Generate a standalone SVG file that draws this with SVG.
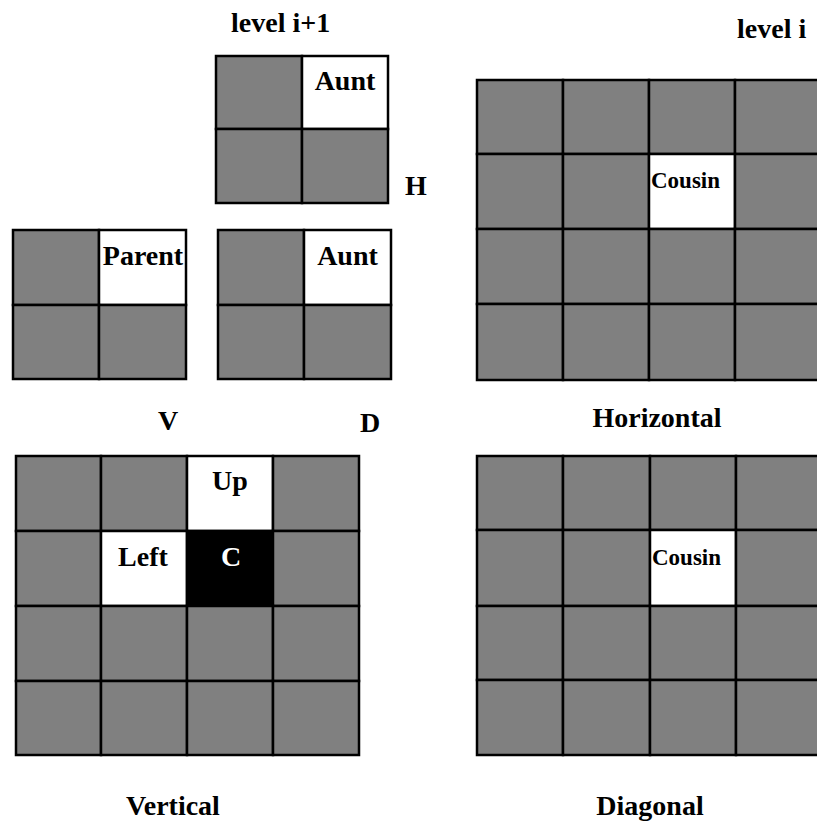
<svg xmlns="http://www.w3.org/2000/svg" width="817" height="823" viewBox="0 0 817 823">
<style>
.g{fill:#808080;stroke:#000;stroke-width:2.5}
.w{fill:#fff;stroke:#000;stroke-width:2.5}
.k{fill:#000;stroke:#000;stroke-width:2.5}
.t{font-family:"Liberation Serif","Times New Roman",serif;font-weight:bold;font-size:28px;fill:#000}
.s{font-size:23px}
.c{text-anchor:middle}
.wt{fill:#fff}
</style>
<rect width="817" height="823" fill="#fff"/>
<g id="labels">
<text class="t" x="231" y="32">level i+1</text>
<text class="t" x="737" y="38">level i</text>
<text class="t" x="405" y="195">H</text>
<text class="t" x="158" y="430">V</text>
<text class="t" x="360" y="432">D</text>
<text class="t c" x="657" y="427">Horizontal</text>
<text class="t c" x="173" y="815">Vertical</text>
<text class="t c" x="650" y="815">Diagonal</text>
</g>
<g id="grid-aunt-top">
<rect class="g" x="216" y="56" width="86" height="73"/>
<rect class="w" x="302" y="56" width="86" height="73"/>
<rect class="g" x="216" y="129" width="86" height="74"/>
<rect class="g" x="302" y="129" width="86" height="74"/>
<text class="t c" x="345" y="90">Aunt</text>
</g>
<g id="grid-parent">
<rect class="g" x="13" y="230" width="86" height="75"/>
<rect class="w" x="99" y="230" width="87" height="75"/>
<rect class="g" x="13" y="305" width="86" height="74"/>
<rect class="g" x="99" y="305" width="87" height="74"/>
<text class="t c" x="143" y="265">Parent</text>
</g>
<g id="grid-aunt">
<rect class="g" x="218" y="230" width="86" height="75"/>
<rect class="w" x="304" y="230" width="87" height="75"/>
<rect class="g" x="218" y="305" width="86" height="74"/>
<rect class="g" x="304" y="305" width="87" height="74"/>
<text class="t c" x="347.5" y="265">Aunt</text>
</g>
<g id="grid-horizontal">
<rect class="g" x="477" y="80" width="86" height="74"/>
<rect class="g" x="563" y="80" width="86" height="74"/>
<rect class="g" x="649" y="80" width="86" height="74"/>
<rect class="g" x="735" y="80" width="86" height="74"/>
<rect class="g" x="477" y="154" width="86" height="75"/>
<rect class="g" x="563" y="154" width="86" height="75"/>
<rect class="w" x="649" y="154" width="86" height="75"/>
<rect class="g" x="735" y="154" width="86" height="75"/>
<rect class="g" x="477" y="229" width="86" height="75"/>
<rect class="g" x="563" y="229" width="86" height="75"/>
<rect class="g" x="649" y="229" width="86" height="75"/>
<rect class="g" x="735" y="229" width="86" height="75"/>
<rect class="g" x="477" y="304" width="86" height="76"/>
<rect class="g" x="563" y="304" width="86" height="76"/>
<rect class="g" x="649" y="304" width="86" height="76"/>
<rect class="g" x="735" y="304" width="86" height="76"/>
<text class="t s" x="651" y="188">Cousin</text>
</g>
<g id="grid-vertical">
<rect class="g" x="16" y="456" width="85" height="75"/>
<rect class="g" x="101" y="456" width="86" height="75"/>
<rect class="w" x="187" y="456" width="86" height="75"/>
<rect class="g" x="273" y="456" width="86" height="75"/>
<rect class="g" x="16" y="531" width="85" height="75"/>
<rect class="w" x="101" y="531" width="86" height="75"/>
<rect class="k" x="187" y="531" width="86" height="75"/>
<rect class="g" x="273" y="531" width="86" height="75"/>
<rect class="g" x="16" y="606" width="85" height="75"/>
<rect class="g" x="101" y="606" width="86" height="75"/>
<rect class="g" x="187" y="606" width="86" height="75"/>
<rect class="g" x="273" y="606" width="86" height="75"/>
<rect class="g" x="16" y="681" width="85" height="74"/>
<rect class="g" x="101" y="681" width="86" height="74"/>
<rect class="g" x="187" y="681" width="86" height="74"/>
<rect class="g" x="273" y="681" width="86" height="74"/>
<text class="t c" x="230" y="490">Up</text>
<text class="t c" x="143" y="566">Left</text>
<text class="t c wt" x="231" y="566">C</text>
</g>
<g id="grid-diagonal">
<rect class="g" x="477" y="456" width="86" height="74"/>
<rect class="g" x="563" y="456" width="87" height="74"/>
<rect class="g" x="650" y="456" width="86" height="74"/>
<rect class="g" x="736" y="456" width="86" height="74"/>
<rect class="g" x="477" y="530" width="86" height="76"/>
<rect class="g" x="563" y="530" width="87" height="76"/>
<rect class="w" x="650" y="530" width="86" height="76"/>
<rect class="g" x="736" y="530" width="86" height="76"/>
<rect class="g" x="477" y="606" width="86" height="74"/>
<rect class="g" x="563" y="606" width="87" height="74"/>
<rect class="g" x="650" y="606" width="86" height="74"/>
<rect class="g" x="736" y="606" width="86" height="74"/>
<rect class="g" x="477" y="680" width="86" height="75"/>
<rect class="g" x="563" y="680" width="87" height="75"/>
<rect class="g" x="650" y="680" width="86" height="75"/>
<rect class="g" x="736" y="680" width="86" height="75"/>
<text class="t s" x="652" y="565">Cousin</text>
</g>
</svg>
